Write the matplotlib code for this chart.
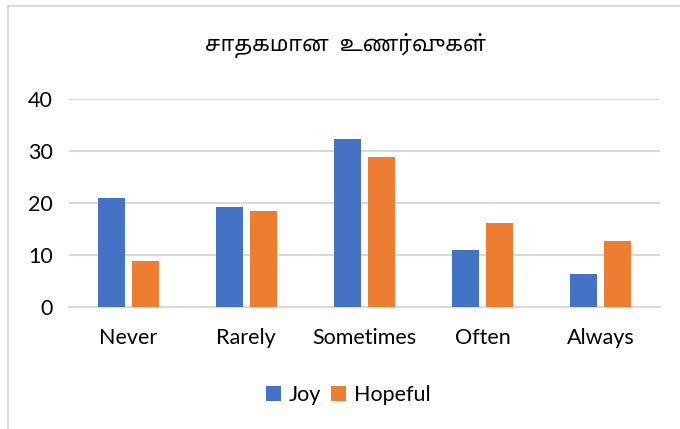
import matplotlib
matplotlib.use("Agg")
import matplotlib.pyplot as plt
import numpy as np
from matplotlib.lines import Line2D

# data
categories = ['Never', 'Rarely', 'Sometimes', 'Often', 'Always']
joy = [21.0, 19.3, 32.3, 11.0, 6.3]
hopeful = [8.8, 18.5, 28.8, 16.2, 12.6]
series_names = ['Joy', 'Hopeful']
title = 'சாதகமான  உணர்வுகள்'

plt.rcParams['font.family'] = ['Lato', 'Noto Sans Tamil', 'Lohit Tamil', 'FreeSans', 'DejaVu Sans']

fig = plt.figure(figsize=(6.8, 4.29), dpi=100)
ax = fig.add_axes([0.1015, 0.2844, 0.8691, 0.4848])

x = np.arange(len(categories))
w = 0.228
off = 0.144
ax.bar(x - off, joy, w, color='#4472C4', label=series_names[0], zorder=3)
ax.bar(x + off, hopeful, w, color='#ED7D31', label=series_names[1], zorder=3)

ax.set_xlim(-0.5, len(categories) - 0.5)
ax.set_ylim(0, 40)
ax.set_yticks([0, 10, 20, 30, 40])
ax.yaxis.grid(True, color='#d9d9d9', linewidth=1.5, zorder=0)
ax.set_axisbelow(True)
for s in ['top', 'right', 'left']:
    ax.spines[s].set_visible(False)
ax.spines['bottom'].set_color('#d9d9d9')
ax.spines['bottom'].set_linewidth(1.5)
ax.tick_params(axis='both', length=0, labelsize=15.5, colors='black')
ax.tick_params(axis='y', pad=11.5)
ax.tick_params(axis='x', pad=15)
ax.set_xticks(x)
ax.set_xticklabels(categories)

fig.text(0.508, 0.895, title, ha='center', va='center', fontsize=15.5)

fig.legend(loc='center', bbox_to_anchor=(0.512, 0.079), ncol=2, frameon=False,
           fontsize=15.5, handlelength=0.7, handleheight=0.7, handletextpad=0.37,
           columnspacing=0.42)

# thin frame on the left and top like the exported chart
fig.add_artist(Line2D([0.012, 0.012], [0, 0.986], color='#d9d9d9', linewidth=1.5))
fig.add_artist(Line2D([0.012, 1.0], [0.986, 0.986], color='#d9d9d9', linewidth=1.5))

fig.savefig('out.png', dpi=100, facecolor='white')
